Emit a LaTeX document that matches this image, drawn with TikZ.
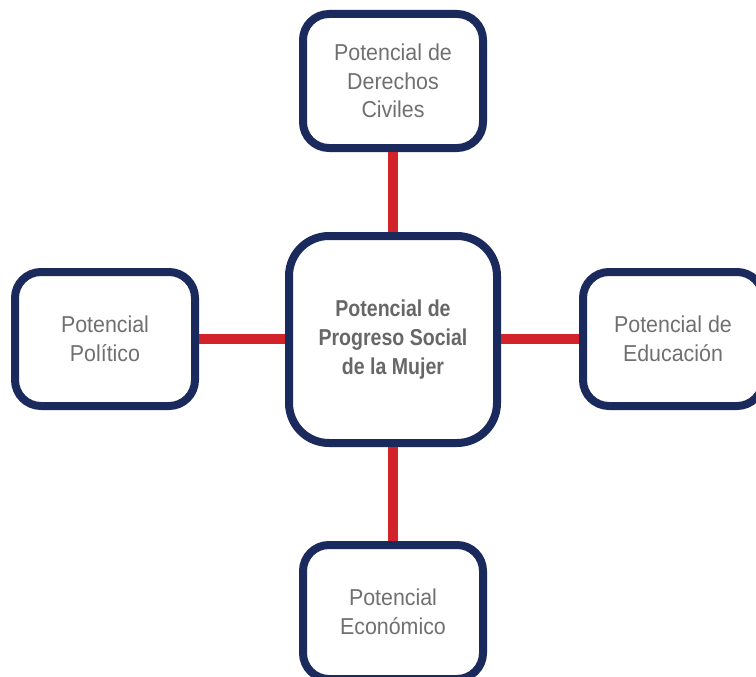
\documentclass[tikz,border=0pt]{standalone}
\usepackage{fontspec}
\setmainfont{Liberation Sans}
\definecolor{navy}{HTML}{1B2A5C}
\definecolor{linkred}{HTML}{D2232A}
\definecolor{txtgray}{HTML}{707070}
\newcommand\rl[1]{\scalebox{0.93}[1]{#1}}
\newcommand\bl[1]{\scalebox{0.85}[1]{#1}}
\begin{document}
\begin{tikzpicture}[x=1pt,y=-1pt,
  boxstyle/.style={draw=navy, line width=8pt, fill=white, rounded corners=26pt,
    minimum width=180pt, minimum height=134pt, align=center, text=txtgray,
    font=\fontsize{23}{28.5}\selectfont, inner sep=0pt},
  hubstyle/.style={boxstyle, rounded corners=40pt, minimum width=208pt, minimum height=207pt,
    font=\fontsize{23}{29}\selectfont\bfseries, text=txtgray!92!black},
  link/.style={draw=linkred, line width=10pt}]
\clip (0,0) rectangle (756,677);
\fill[white] (0,0) rectangle (756,677);
\node[hubstyle] (hub) at (393,339.5) {\bl{Potencial de}\\\bl{Progreso Social}\\\bl{de la Mujer}};
\node[boxstyle] (top) at (393,81) {\rl{Potencial de}\\\rl{Derechos}\\\rl{Civiles}};
\node[boxstyle] (left) at (105,339) {\rl{Potencial}\\\rl{Político}};
\node[boxstyle] (right) at (673,339) {\rl{Potencial de}\\\rl{Educación}};
\node[boxstyle] (bottom) at (393,612) {\rl{Potencial}\\\rl{Económico}};
\draw[link] (hub.north) -- (top.south);
\draw[link] (hub.south) -- (bottom.north);
\draw[link] (hub.west |- left.east) -- (left.east);
\draw[link] (hub.east |- right.west) -- (right.west);
\end{tikzpicture}
\end{document}
